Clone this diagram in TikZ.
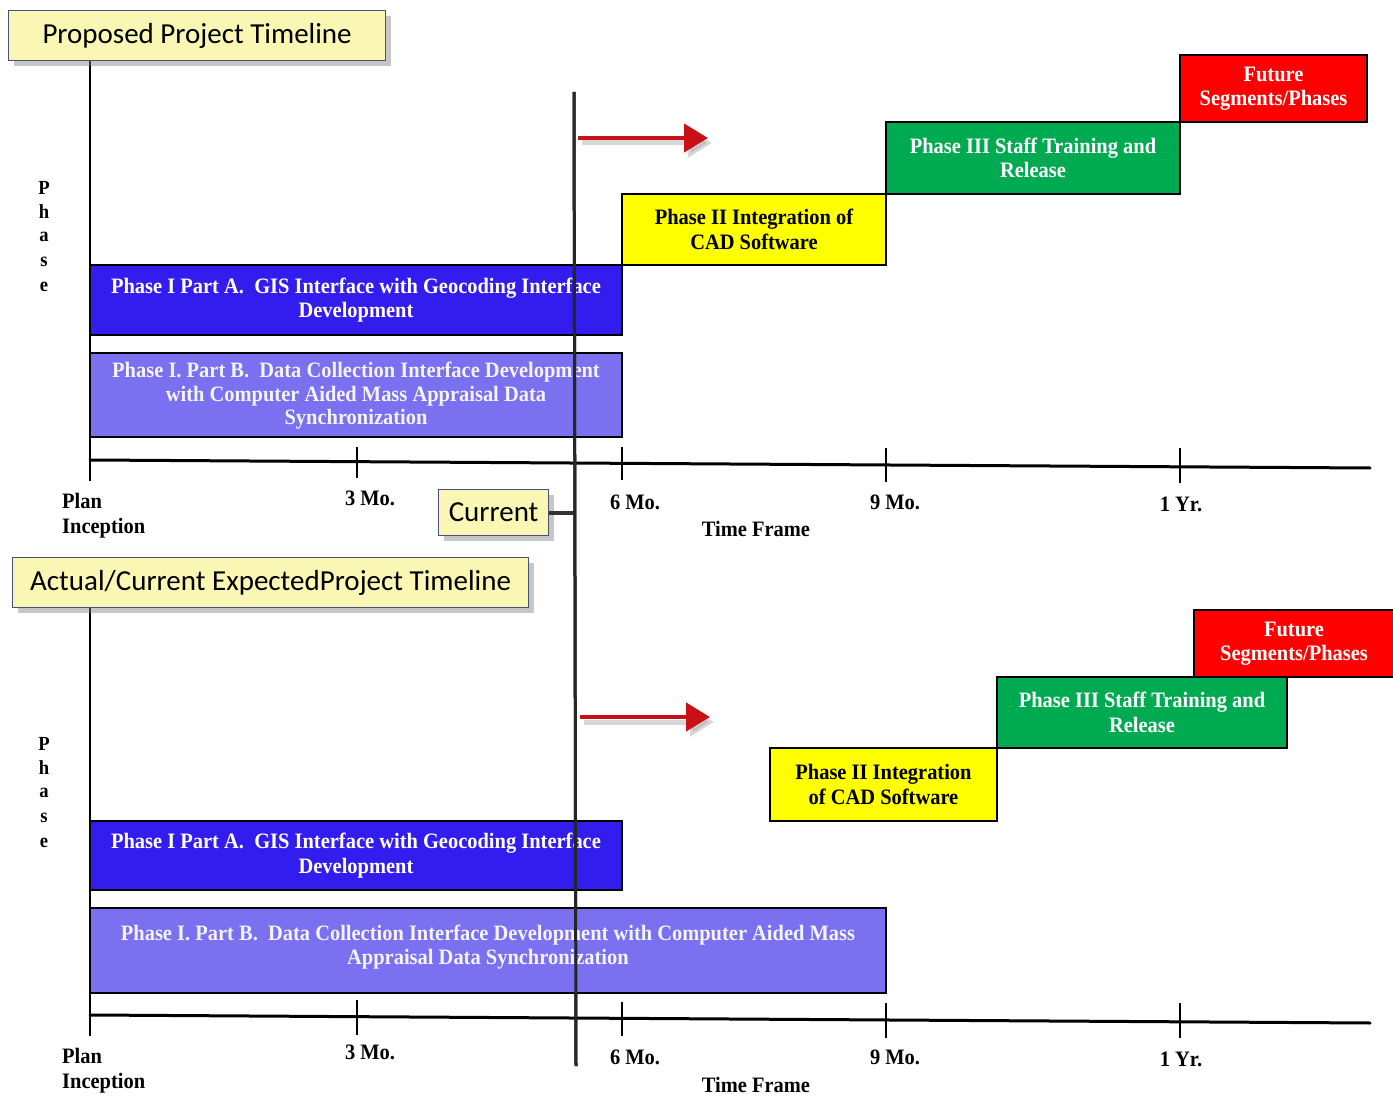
\documentclass[tikz,border=0pt]{standalone}
\usepackage{fontspec}
\setmainfont{Liberation Serif}
\newfontfamily\condserif[FakeStretch=0.93]{Liberation Serif}
\newfontfamily\titlefont{Carlito}
\usetikzlibrary{arrows.meta,shadows}
\definecolor{titlefill}{RGB}{250,247,180}
\definecolor{titleedge}{RGB}{70,80,120}
\definecolor{blueA}{RGB}{50,28,238}
\definecolor{blueB}{RGB}{122,112,240}
\definecolor{phyellow}{RGB}{255,255,0}
\definecolor{phgreen}{RGB}{0,170,80}
\definecolor{phred}{RGB}{255,0,0}
\definecolor{arrowred}{RGB}{200,16,22}
\tikzset{
  titlebox/.style={draw=titleedge, line width=1.2pt, fill=titlefill, inner sep=0pt,
    drop shadow={opacity=0.45, shadow xshift=5pt, shadow yshift=-5pt},
    font=\titlefont\fontsize{29}{34}\selectfont, anchor=north west},
  phasebox/.style={draw=black, line width=1.4pt, inner sep=0pt, align=center,
    font=\condserif\bfseries\fontsize{22}{24.5}\selectfont},
  axisline/.style={line width=3pt, line cap=round},
  vaxis/.style={line width=2.2pt},
  tickline/.style={line width=1.3pt},
  ticklabel/.style={font=\condserif\bfseries\fontsize{22}{25}\selectfont, inner sep=0pt},
  redarrow/.style={draw=arrowred, line width=4.5pt, -{Triangle[length=24pt,width=28pt]}},
  arrowshadow/.style={draw=black!35, opacity=0.45, line width=5pt, -{Triangle[length=24pt,width=28pt]}},
  letter/.style={font=\condserif\bfseries\fontsize{20}{24}\selectfont, inner sep=0pt}
}
\begin{document}
\begin{tikzpicture}[x=1pt,y=-1pt]
\useasboundingbox (0,0) rectangle (1393,1099);

% ===================== TOP: Proposed =====================
\coordinate (tAxisTop) at (90,60);
\coordinate (tAxisBot) at (90,481);
\coordinate (tAxisL) at (90,460);
\coordinate (tAxisR) at (1370,468);
\draw[vaxis] (tAxisTop) -- (tAxisBot);
\draw[axisline] (tAxisL) -- (tAxisR);
\foreach \x/\t/\b in {357/447/478, 622/447/480, 886/448/482, 1180/448/483}{
  \draw[tickline] (\x,\t) -- (\x,\b);
}
\node[titlebox, minimum width=377pt, minimum height=50pt] (t1) at (8,10) {Proposed Project Timeline};

% Phase letters
\node[letter] (tp1) at (44,188) {P};
\node[letter] (tp2) at (44,212) {h};
\node[letter] (tp3) at (44,237) {a};
\node[letter] (tp4) at (44,262) {s};
\node[letter] (tp5) at (44,287) {e};

% boxes
\node[phasebox, fill=blueA, text=white, minimum width=532pt, minimum height=70pt] (tIA) at (356,300)
  {Phase I Part A.\ \ GIS Interface with Geocoding Interface\\Development};
\node[phasebox, fill=blueB, text=white!92!blueB, minimum width=532pt, minimum height=84pt, text depth=3pt,
  font=\condserif\bfseries\fontsize{22}{23.5}\selectfont] (tIB) at (356,395)
  {Phase I. Part B.\ \ Data Collection Interface Development\\with Computer Aided Mass Appraisal Data\\Synchronization};
\node[phasebox, fill=phyellow, text=black, minimum width=264pt, minimum height=71pt] (tII) at (754,229.5)
  {Phase II Integration of\\CAD Software};
\node[phasebox, fill=phgreen, text=white, minimum width=294pt, minimum height=72pt] (tIII) at (1033,158)
  {Phase III Staff Training and\\Release};
\node[phasebox, fill=phred, text=white, minimum width=187pt, minimum height=67pt] (tF) at (1273.5,88.5)
  {Future\\Segments/Phases};

% red arrow
\coordinate (tArrS) at (578,138);
\coordinate (tArrE) at (708,138);
\coordinate (tArrSs) at (582,143);
\coordinate (tArrEs) at (712,143);
\draw[arrowshadow] (tArrSs) -- (tArrEs);
\draw[redarrow] (tArrS) -- (tArrE);

% labels
\node[ticklabel, align=left, anchor=north west] (tl0) at (62,493) {Plan\\Inception};
\node[ticklabel, anchor=north] (tl3) at (370,491) {3 Mo.};
\node[ticklabel, anchor=north] (tl6) at (635,495) {6 Mo.};
\node[ticklabel, anchor=north] (tl9) at (895,495) {9 Mo.};
\node[ticklabel, anchor=north] (tl12) at (1181,497) {1 Yr.};
\node[ticklabel, anchor=north] (tlT) at (756,521) {Time Frame};

% ===================== Current line =====================
\coordinate (curTop) at (574,92);
\coordinate (curBot) at (576,1066);
\draw[line width=3pt, black!85] (curTop) -- (curBot);
\node[titlebox, minimum width=110pt, minimum height=46pt] (cur) at (438,489) {Current};
\draw[line width=4pt, black!80] (cur.east) -- (cur.east -| curTop);

% ===================== BOTTOM: Actual =====================
\coordinate (bAxisTop) at (90,607);
\coordinate (bAxisBot) at (90,1036);
\coordinate (bAxisL) at (90,1015);
\coordinate (bAxisR) at (1370,1023);
\draw[vaxis] (bAxisTop) -- (bAxisBot);
\draw[axisline] (bAxisL) -- (bAxisR);
\foreach \x/\t/\b in {357/1000/1035, 622/1002/1036, 886/1003/1038, 1180/1003/1038}{
  \draw[tickline] (\x,\t) -- (\x,\b);
}
\node[titlebox, minimum width=516pt, minimum height=50pt] (t2) at (12,557) {Actual/Current ExpectedProject Timeline};

\node[letter] (bp1) at (44,744) {P};
\node[letter] (bp2) at (44,768) {h};
\node[letter] (bp3) at (44,793) {a};
\node[letter] (bp4) at (44,818) {s};
\node[letter] (bp5) at (44,843) {e};

\node[phasebox, fill=blueA, text=white, minimum width=532pt, minimum height=69pt] (bIA) at (356,855.5)
  {Phase I Part A.\ \ GIS Interface with Geocoding Interface\\Development};
\node[phasebox, fill=blueB, text=white!92!blueB, minimum width=796pt, minimum height=85pt, text depth=12pt] (bIB) at (488,950.5)
  {Phase I. Part B.\ \ Data Collection Interface Development with Computer Aided Mass\\Appraisal Data Synchronization};
\node[phasebox, fill=phyellow, text=black, minimum width=227pt, minimum height=73pt] (bII) at (883.5,784.5)
  {Phase II Integration\\of CAD Software};
\node[phasebox, fill=phgreen, text=white, minimum width=290pt, minimum height=71pt] (bIII) at (1142,712.5)
  {Phase III Staff Training and\\Release};
\node[phasebox, fill=phred, text=white, minimum width=200pt, minimum height=67pt] (bF) at (1294,643.5)
  {Future\\Segments/Phases};

\coordinate (bArrS) at (580,717);
\coordinate (bArrE) at (710,717);
\coordinate (bArrSs) at (584,722);
\coordinate (bArrEs) at (714,722);
\draw[arrowshadow] (bArrSs) -- (bArrEs);
\draw[redarrow] (bArrS) -- (bArrE);

\node[ticklabel, align=left, anchor=north west] (bl0) at (62,1048) {Plan\\Inception};
\node[ticklabel, anchor=north] (bl3) at (370,1045) {3 Mo.};
\node[ticklabel, anchor=north] (bl6) at (635,1050) {6 Mo.};
\node[ticklabel, anchor=north] (bl9) at (895,1050) {9 Mo.};
\node[ticklabel, anchor=north] (bl12) at (1181,1052) {1 Yr.};
\node[ticklabel, anchor=north] (blT) at (756,1077) {Time Frame};

% redraw current line over boxes
\draw[line width=3pt, black!85] (curTop) -- (curBot);
\end{tikzpicture}
\end{document}
